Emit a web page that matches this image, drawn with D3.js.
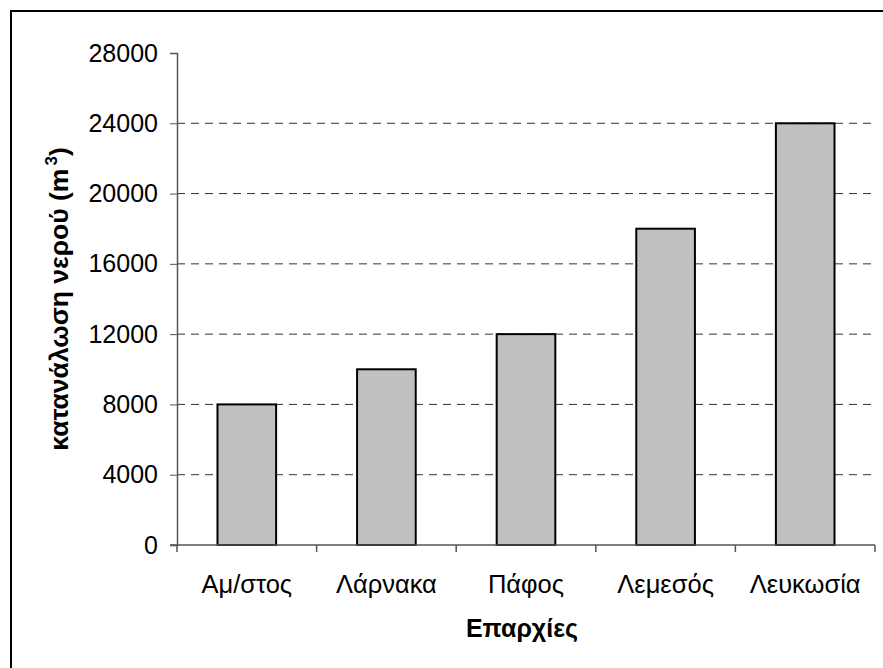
<!DOCTYPE html>
<html>
<head>
<meta charset="utf-8">
<script src="https://cdn.jsdelivr.net/npm/d3@7"></script>
<style>
  body { margin: 0; background: #fff; }
  text { font-family: "Liberation Sans", Arial, sans-serif; }
</style>
</head>
<body>
<svg id="chart"></svg>
<script>
// data
var categories = ["Αμ/στος", "Λάρνακα", "Πάφος", "Λεμεσός", "Λευκωσία"];
var consumption = [8000, 10000, 12000, 18000, 24000];
var yTicks = [0, 4000, 8000, 12000, 16000, 20000, 24000, 28000];

var width = 883,
  height = 668;
var svg = d3.select("#chart").attr("width", width).attr("height", height);

// plot area (plotTop, not "top" - that one belongs to window)
var plotLeft = 177, plotRight = 875, plotTop = 53, plotBottom = 545;

// outer frame (runs off the page on right and bottom)
svg.append("rect")
  .attr("x", 11).attr("y", 11)
  .attr("width", 900).attr("height", 700)
  .attr("fill", "none")
  .attr("stroke", "#000")
  .attr("stroke-width", 2);

var x = d3.scaleBand()
  .domain(categories)
  .range([plotLeft, plotRight])
  .paddingInner(0.58)
  .paddingOuter(0.29);

var y = d3.scaleLinear().domain([0, 28000]).range([plotBottom, plotTop]);

// dashed gridlines
svg.append("g")
  .selectAll("line")
  .data(yTicks.filter(function (d) { return d > 0 && d < 28000; }))
  .join("line")
  .attr("x1", plotLeft).attr("x2", plotRight)
  .attr("y1", function (d) { return y(d); })
  .attr("y2", function (d) { return y(d); })
  .attr("stroke", "#333")
  .attr("stroke-width", 1)
  .attr("stroke-dasharray", "8,6");

// bars
svg.append("g")
  .selectAll("rect")
  .data(consumption)
  .join("rect")
  .attr("x", function (d, i) { return x(categories[i]); })
  .attr("y", function (d) { return y(d); })
  .attr("width", x.bandwidth())
  .attr("height", function (d) { return plotBottom - y(d); })
  .attr("fill", "#c0c0c0")
  .attr("stroke", "#000")
  .attr("stroke-width", 2);

// y axis
var yAxis = svg.append("g")
  .attr("transform", "translate(" + plotLeft + ",0)")
  .call(d3.axisLeft(y).tickValues(yTicks).tickSize(7).tickPadding(12).tickFormat(d3.format("d")));
yAxis.select(".domain").attr("stroke", "#555").attr("stroke-width", 1.5);
yAxis.selectAll(".tick line").attr("stroke", "#555");
yAxis.selectAll("text").attr("font-size", 25).attr("fill", "#000")
  .style("font-family", "'Liberation Sans', Arial, sans-serif");

// x axis: ticks sit between the categories
var xAxis = svg.append("g").attr("transform", "translate(0," + plotBottom + ")");
xAxis.append("line")
  .attr("x1", plotLeft - 7).attr("x2", plotRight)
  .attr("stroke", "#555").attr("stroke-width", 1.5);
var step = (plotRight - plotLeft) / categories.length;
var bounds = d3.range(categories.length + 1).map(function (i) { return plotLeft + i * step; });
xAxis.selectAll(".xtick")
  .data(bounds)
  .join("line")
  .attr("class", "xtick")
  .attr("x1", function (d) { return d; }).attr("x2", function (d) { return d; })
  .attr("y1", 0).attr("y2", 7)
  .attr("stroke", "#555").attr("stroke-width", 1.5);
xAxis.selectAll(".xlabel")
  .data(categories)
  .join("text")
  .attr("class", "xlabel")
  .attr("x", function (d) { return x(d) + x.bandwidth() / 2; })
  .attr("y", 48)
  .attr("text-anchor", "middle")
  .attr("font-size", 25.5)
  .text(function (d) { return d; });

// axis titles
svg.append("text")
  .attr("x", (plotLeft + plotRight) / 2 - 4)
  .attr("y", 637)
  .attr("text-anchor", "middle")
  .attr("font-size", 25)
  .attr("font-weight", "bold")
  .text("Επαρχίες");

var yTitle = svg.append("text")
  .attr("transform", "translate(68," + (plotTop + plotBottom) / 2 + ") rotate(-90)")
  .attr("text-anchor", "middle")
  .attr("font-size", 26.5)
  .attr("font-weight", "bold");
yTitle.append("tspan").text("κατανάλωση νερού (m");
yTitle.append("tspan").attr("dx", 3).attr("dy", -11).attr("font-size", 17).text("3");
yTitle.append("tspan").attr("dy", 11).text(")");
</script>
</body>
</html>
